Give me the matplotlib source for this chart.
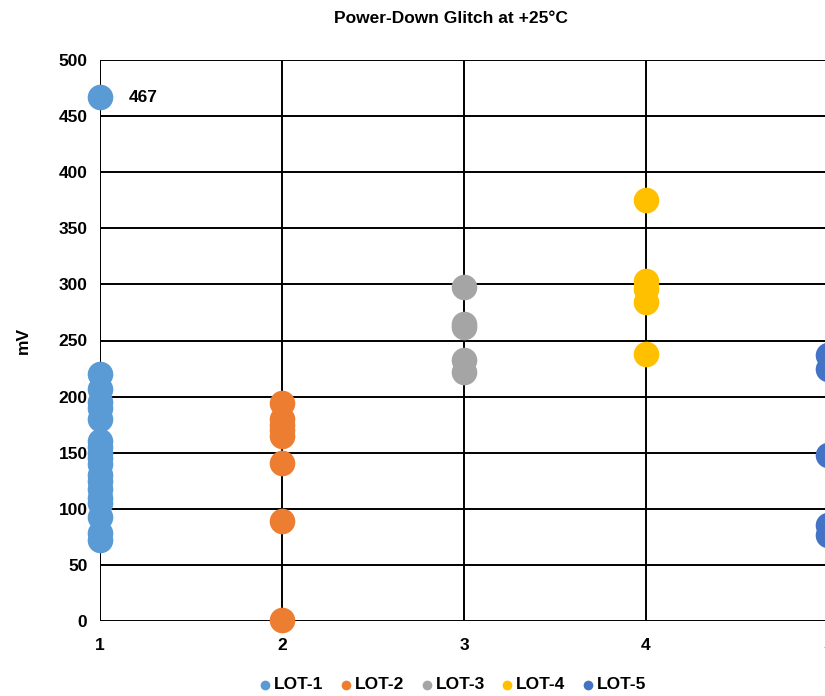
import matplotlib.pyplot as plt

plt.rcParams["font.family"] = ["Liberation Sans", "DejaVu Sans"]
plt.rcParams["font.weight"] = "bold"

# values (mV), one list per lot
lot1 = [467, 220, 207, 195, 190, 180, 160, 155, 150, 145, 140, 130, 125, 118, 110, 105, 93, 78, 72]
lot2 = [194, 180, 175, 170, 165, 141, 89, 1]
lot3 = [298, 265, 262, 233, 222]
lot4 = [375, 303, 296, 284, 238]
lot5 = [237, 225, 148, 86, 77]

lots = [lot1, lot2, lot3, lot4, lot5]
labels = ["LOT-1", "LOT-2", "LOT-3", "LOT-4", "LOT-5"]
colors = ["#5B9BD5", "#ED7D31", "#A5A5A5", "#FFC000", "#4472C4"]

fig = plt.figure(figsize=(8.25, 6.96), dpi=100)
ax = fig.add_axes([100 / 825, 1 - 621 / 696, 728 / 825, 561 / 696])

for i, (vals, lab, col) in enumerate(zip(lots, labels, colors)):
    ax.scatter([i + 1] * len(vals), vals, s=340, color=col, label=lab,
               zorder=3, clip_on=False, linewidths=0)

ax.annotate("467", (1, 467), xytext=(21, 0), textcoords="offset points",
            fontsize=12.5, fontweight="bold", va="center")

ax.set_xlim(1, 5)
ax.set_ylim(0, 500)
ax.set_xticks([1, 2, 3, 4, 5])
ax.set_yticks(range(0, 501, 50))
ax.grid(True, color="black", linewidth=1.4)
ax.tick_params(axis="y", length=0, labelsize=12.5, pad=9)
ax.tick_params(axis="x", length=0, labelsize=12.5, pad=12)
for sp in ax.spines.values():
    sp.set_visible(False)
ax.axvline(1, color="black", linewidth=1.4)

ax.set_ylabel("mV", fontsize=12.5, fontweight="bold", labelpad=20)
fig.text(0.546, 0.974, "Power-Down Glitch at +25°C", ha="center", va="center",
         fontsize=12.5, fontweight="bold")

leg = fig.legend(loc="center", bbox_to_anchor=(0.547, 0.016), ncol=5, frameon=False,
                 fontsize=12.5, markerscale=0.38, handletextpad=0.0, columnspacing=0.8,
                 handlelength=1.0)

fig.savefig("out.png", dpi=100)
